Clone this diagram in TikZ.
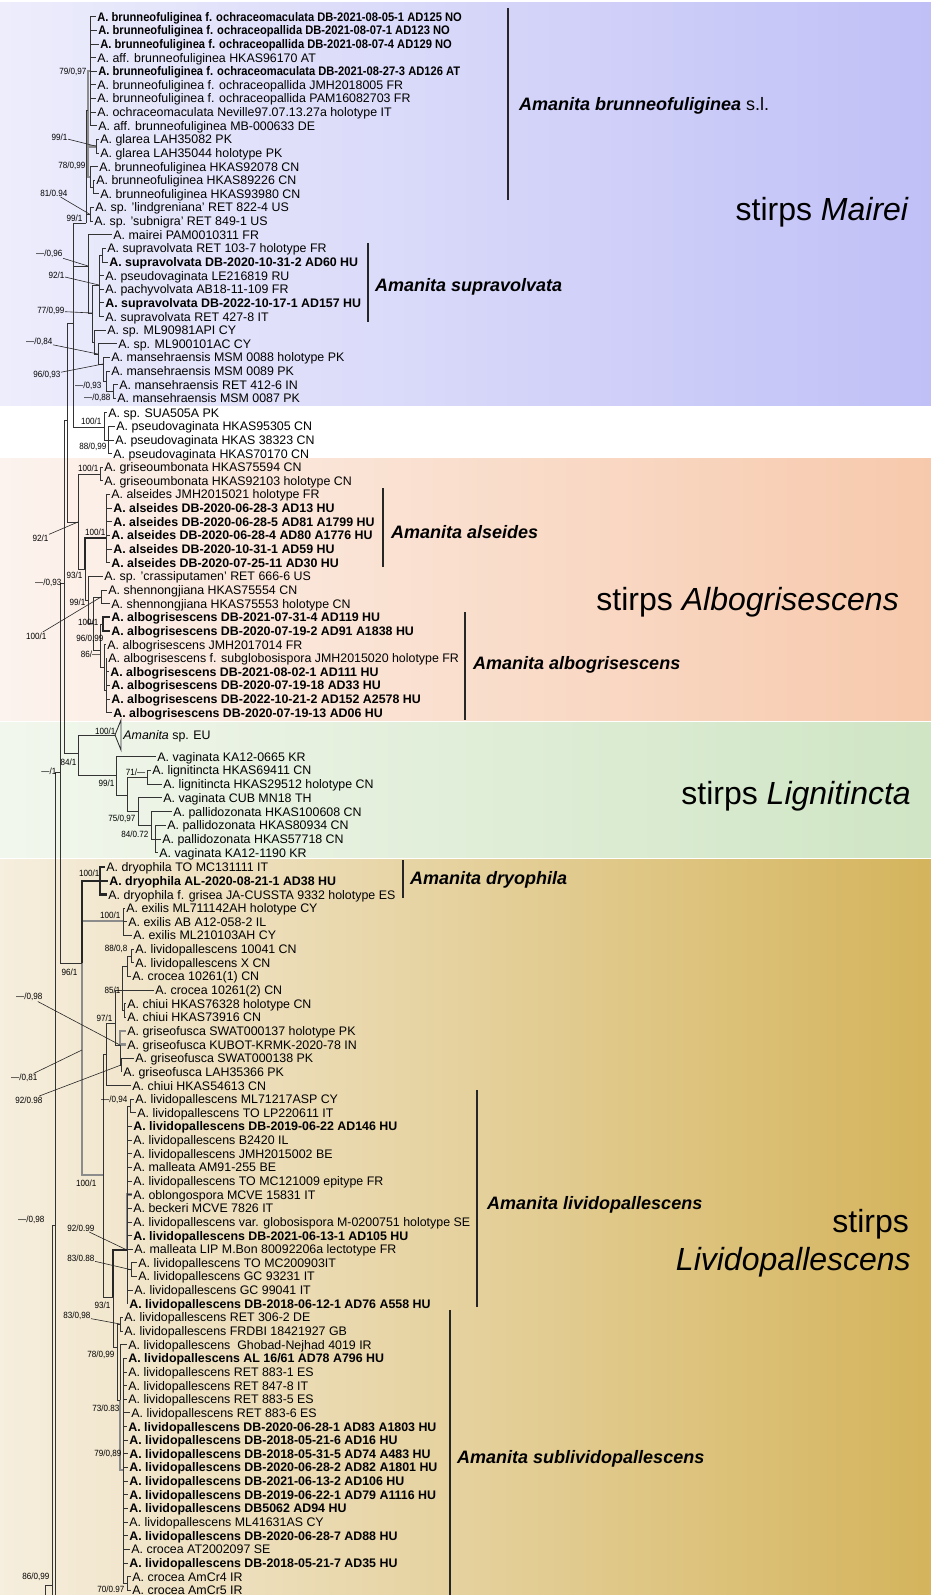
\documentclass[tikz,border=0pt]{standalone}
\usepackage{fontspec}
\setmainfont{Liberation Sans}
\newfontfamily\supfam[FakeStretch=0.9]{Liberation Sans}
\definecolor{mairL}{RGB}{237,237,252}
\definecolor{mairR}{RGB}{192,192,247}
\definecolor{alboL}{RGB}{252,243,238}
\definecolor{alboR}{RGB}{247,201,172}
\definecolor{ligL}{RGB}{242,247,237}
\definecolor{ligR}{RGB}{207,229,196}
\definecolor{livL}{RGB}{246,238,222}
\definecolor{livR}{RGB}{212,180,92}
\newcommand{\leaffont}{\fontsize{12.4}{13}\selectfont}
\newcommand{\narrowbold}{\bfseries\addfontfeature{FakeStretch=0.9}}
\newcommand{\supfont}{\supfam\fontsize{9}{10}\selectfont}
\newcommand{\cladefont}{\fontsize{18}{21}\selectfont}
\newcommand{\stirpsfont}{\fontsize{32}{38}\selectfont}

\begin{document}
\begin{tikzpicture}[
  x=1pt, y=-1pt,
  lf/.style={anchor=west,inner sep=0pt,inner xsep=1.2pt,font=\leaffont,text height=8.9pt,text depth=0pt},
  br/.style={draw=black!80,line width=0.9pt},
  thk/.style={draw=black!45,line width=2.6pt},
  tkb/.style={draw=black!85,line width=2.2pt},
  sup/.style={anchor=east,inner sep=0.5pt,font=\supfont},
  ldr/.style={draw=black!85,line width=0.6pt},
  bar/.style={draw=black!85,line width=1.2pt},
  cl/.style={anchor=west,inner sep=0pt,font=\cladefont\bfseries\itshape,text height=12.9pt,text depth=0pt},
  stp/.style={anchor=base east,inner sep=0pt,font=\stirpsfont}
]
\useasboundingbox (0,0) rectangle (931,1595);
\clip (0,0) rectangle (931,1595);

% stirps bands
\shade[left color=mairL,right color=mairR] (0,3) rectangle (931,405);
\shade[left color=alboL,right color=alboR] (0,458) rectangle (931,720);
\shade[left color=ligL,right color=ligR] (0,722) rectangle (931,857.5);
\shade[left color=livL,right color=livR] (0,859.5) rectangle (931,1595);

% leaves
\foreach \px/\t [count=\i] in {
  96/{\narrowbold A. brunneofuliginea f. ochraceomaculata DB-2021-08-05-1 AD125 NO},
  97/{\narrowbold A. brunneofuliginea f. ochraceopallida DB-2021-08-07-1 AD123 NO},
  99/{\narrowbold A. brunneofuliginea f. ochraceopallida DB-2021-08-07-4 AD129 NO},
  96/{A. aff. brunneofuliginea HKAS96170 AT},
  97/{\narrowbold A. brunneofuliginea f. ochraceomaculata DB-2021-08-27-3 AD126 AT},
  96/{A. brunneofuliginea f. ochraceopallida JMH2018005 FR},
  96/{A. brunneofuliginea f. ochraceopallida PAM16082703 FR},
  96/{A. ochraceomaculata Neville97.07.13.27a holotype IT},
  97/{A. aff. brunneofuliginea MB-000633 DE},
  99/{A. glarea LAH35082 PK},
  99/{A. glarea LAH35044 holotype PK},
  98/{A. brunneofuliginea HKAS92078 CN},
  95/{A. brunneofuliginea HKAS89226 CN},
  99/{A. brunneofuliginea HKAS93980 CN},
  94/{A. sp. 'lindgreniana' RET 822-4 US},
  93/{A. sp. 'subnigra' RET 849-1 US},
  112/{A. mairei PAM0010311 FR},
  106/{A. supravolvata RET 103-7 holotype FR},
  108/{\bfseries A. supravolvata DB-2020-10-31-2 AD60 HU},
  104/{A. pseudovaginata LE216819 RU},
  104/{A. pachyvolvata AB18-11-109 FR},
  104/{\bfseries A. supravolvata DB-2022-10-17-1 AD157 HU},
  104/{A. supravolvata RET 427-8 IT},
  106/{A. sp. ML90981API CY},
  117/{A. sp. ML900101AC CY},
  110/{A. mansehraensis MSM 0088 holotype PK},
  110/{A. mansehraensis MSM 0089 PK},
  118/{A. mansehraensis RET 412-6 IN},
  116/{A. mansehraensis MSM 0087 PK}}
  \node[lf] (L\i) at (\px,{16.7+13.63*(\i-1)}) {\t};

\foreach \px/\t [count=\i from 30] in {
  107/{A. sp. SUA505A PK},
  115/{A. pseudovaginata HKAS95305 CN},
  114/{A. pseudovaginata HKAS 38323 CN},
  112/{A. pseudovaginata HKAS70170 CN},
  103/{A. griseoumbonata HKAS75594 CN},
  103/{A. griseoumbonata HKAS92103 holotype CN},
  110/{A. alseides JMH2015021 holotype FR},
  112/{\bfseries A. alseides DB-2020-06-28-3 AD13 HU},
  112/{\bfseries A. alseides DB-2020-06-28-5 AD81 A1799 HU},
  110/{\bfseries A. alseides DB-2020-06-28-4 AD80 A1776 HU},
  112/{\bfseries A. alseides DB-2020-10-31-1 AD59 HU},
  110/{\bfseries A. alseides DB-2020-07-25-11 AD30 HU},
  103/{A. sp. 'crassiputamen' RET 666-6 US},
  107/{A. shennongjiana HKAS75554 CN},
  110/{A. shennongjiana HKAS75553 holotype CN},
  110/{\bfseries A. albogrisescens DB-2021-07-31-4 AD119 HU},
  110/{\bfseries A. albogrisescens DB-2020-07-19-2 AD91 A1838 HU},
  106/{A. albogrisescens JMH2017014 FR},
  107/{A. albogrisescens f. subglobosispora JMH2015020 holotype FR},
  109/{\bfseries A. albogrisescens DB-2021-08-02-1 AD111 HU},
  110/{\bfseries A. albogrisescens DB-2020-07-19-18 AD33 HU},
  110/{\bfseries A. albogrisescens DB-2022-10-21-2 AD152 A2578 HU},
  112/{\bfseries A. albogrisescens DB-2020-07-19-13 AD06 HU}}
  \node[lf] (L\i) at (\px,{412.7+13.64*(\i-30)}) {\t};

\node[lf] (L53) at (122,735) {\textit{Amanita} sp. EU};

\foreach \px/\t [count=\i from 54] in {
  156/{A. vaginata KA12-0665 KR},
  151/{A. lignitincta HKAS69411 CN},
  162/{A. lignitincta HKAS29512 holotype CN},
  162/{A. vaginata CUB MN18 TH},
  172/{A. pallidozonata HKAS100608 CN},
  166/{A. pallidozonata HKAS80934 CN},
  161/{A. pallidozonata HKAS57718 CN},
  158/{A. vaginata KA12-1190 KR}}
  \node[lf] (L\i) at (\px,{756.7+13.71*(\i-54)}) {\t};

\foreach \px/\t [count=\i from 62] in {
  105/{A. dryophila TO MC131111 IT},
  108/{\bfseries A. dryophila AL-2020-08-21-1 AD38 HU},
  107/{A. dryophila f. grisea JA-CUSSTA 9332 holotype ES},
  125/{A. exilis ML711142AH holotype CY},
  127/{A. exilis AB A12-058-2 IL},
  132/{A. exilis ML210103AH CY},
  134/{A. lividopallescens 10041 CN},
  134/{A. lividopallescens X CN},
  131/{A. crocea 10261(1) CN},
  154/{A. crocea 10261(2) CN},
  126/{A. chiui HKAS76328 holotype CN},
  126/{A. chiui HKAS73916 CN},
  126/{A. griseofusca SWAT000137 holotype PK},
  126/{A. griseofusca KUBOT-KRMK-2020-78 IN},
  134/{A. griseofusca SWAT000138 PK},
  122/{A. griseofusca LAH35366 PK},
  131/{A. chiui HKAS54613 CN},
  134/{A. lividopallescens ML71217ASP CY},
  136/{A. lividopallescens TO LP220611 IT},
  132/{\bfseries A. lividopallescens DB-2019-06-22 AD146 HU},
  132/{A. lividopallescens B2420 IL},
  132/{A. lividopallescens JMH2015002 BE},
  132/{A. malleata AM91-255 BE},
  132/{A. lividopallescens TO MC121009 epitype FR},
  132/{A. oblongospora MCVE 15831 IT},
  132/{A. beckeri MCVE 7826 IT},
  132/{A. lividopallescens var. globosispora M-0200751 holotype SE},
  132/{\bfseries A. lividopallescens DB-2021-06-13-1 AD105 HU},
  133/{A. malleata LIP M.Bon 80092206a lectotype FR},
  137/{A. lividopallescens TO MC200903IT},
  137/{A. lividopallescens GC 93231 IT},
  133/{A. lividopallescens GC 99041 IT},
  128/{\bfseries A. lividopallescens DB-2018-06-12-1 AD76 A558 HU},
  123/{A. lividopallescens RET 306-2 DE},
  123/{A. lividopallescens FRDBI 18421927 GB},
  127/{A. lividopallescens\ \ Ghobad-Nejhad 4019 IR},
  127/{\bfseries A. lividopallescens AL 16/61 AD78 A796 HU},
  127/{A. lividopallescens RET 883-1 ES},
  127/{A. lividopallescens RET 847-8 IT},
  127/{A. lividopallescens RET 883-5 ES},
  130/{A. lividopallescens RET 883-6 ES},
  127/{\bfseries A. lividopallescens DB-2020-06-28-1 AD83 A1803 HU},
  128/{\bfseries A. lividopallescens DB-2018-05-21-6 AD16 HU},
  128/{\bfseries A. lividopallescens DB-2018-05-31-5 AD74 A483 HU},
  128/{\bfseries A. lividopallescens DB-2020-06-28-2 AD82 A1801 HU},
  128/{\bfseries A. lividopallescens DB-2021-06-13-2 AD106 HU},
  128/{\bfseries A. lividopallescens DB-2019-06-22-1 AD79 A1116 HU},
  128/{\bfseries A. lividopallescens DB5062 AD94 HU},
  128/{A. lividopallescens ML41631AS CY},
  128/{\bfseries A. lividopallescens DB-2020-06-28-7 AD88 HU},
  130/{A. crocea AT2002097 SE},
  128/{\bfseries A. lividopallescens DB-2018-05-21-7 AD35 HU},
  131/{A. crocea AmCr4 IR},
  131/{A. crocea AmCr5 IR}}
  \node[lf] (L\i) at (\px,{867.3+13.64*(\i-62)}) {\t};

% internal nodes of the tree
\foreach \nm/\px/\py in {Ctop/90/71.2, Cbig/88/110, G1/96/146.2, G2/90/177, G2b/93/187.1,
  G3/90/214.4, Csl/86/223, Sv1/102/255.2, Sv/99/285, Mm/88/266, Ms/92/313, Mx/94/342,
  Mn/98/354, Mn2/103/364, Mn3/106/381, Mn4/113/391.5, P1/104/427, P2/108/440, M1/73/323,
  Gu/100/474, Al/106/538, Sh/101/597, Ab1/103/624, Ab2/104/667, Ab3/106/690, Ab/100/650,
  Gd/93/623, Gc/88/600, Gb/85/569, Ga/78/522, Q1/67/420, Q2/64/583,
  Aeu/115/735, Aeut/121/720, Aeub/121/750, Lc/147/777.2, Lg6/155/839, Lg5/151/825,
  Lg4/138/811, Lg3/127/795, Lg2/116/775, Lig/78/753,
  Dr/100/880.9, Ex/123/921, Cl/131/956, Cc/127/966, Ch/124/1010.5, Cy/122/990,
  Gf2/121/1065, Gf/120/1045, Cx/115/1023, Cg/106/1054, Lp1/130/1106, Lp2/131/1269.7,
  Lp/127/1250, Sb1/120/1324, Sb4/127/1583, Sb3/123/1470, Sb2/120/1400, Sb/117/1347,
  Ly/113/1297, Lx/103/1175, Lv/82/963, k81/82/1050, R2/60/772, R1/55/1225,
  Rb/75/1660, B1/52/1585, Bb/70/1670, B0/45/1680}
  \coordinate (\nm) at (\px,\py);

% heavy branches
\foreach \p/\c in {Cbig/Ctop, Cbig/G1, Cbig/G2, Lv/Ex, Lv/Lx, Sb2/Sb3, Gf/L74, Gf/L75, Lp/L86}
  \draw[thk] (\p) |- (\c);
\foreach \p/\c in {Gb/Al, Ab1/L45, Ab1/L46, Lv/Dr, Dr/L62, Dr/L63, Dr/L64, Ly/Lp}
  \draw[tkb] (\p) |- (\c);

% branches
\foreach \c in {1,...,9} \draw[br] (Ctop) |- (L\c);
\foreach \c in {36,...,41} \draw[br] (Al) |- (L\c);
\foreach \c in {48,...,52} \draw[br] (Ab3) |- (L\c);
\foreach \c in {81,...,90} \draw[br] (Lp) |- (L\c);
\foreach \c in {98,...,113} \draw[br] (Sb3) |- (L\c);
\foreach \p/\c in {G1/L10, G1/L11, G2/L12, G2/G2b, G2b/L13, G2b/L14, G3/L15, G3/L16,
  Csl/Cbig, Csl/G3, M1/Csl, M1/Mm, M1/P1, Mm/L17, Mm/Ms, Ms/Sv, Ms/Mx,
  Sv/Sv1, Sv/L20, Sv/L21, Sv/L22, Sv/L23, Sv1/L18, Sv1/L19, Mx/L24, Mx/Mn,
  Mn/L25, Mn/Mn2, Mn2/L26, Mn2/Mn3, Mn3/L27, Mn3/Mn4, Mn4/L28, Mn4/L29,
  P1/L30, P1/P2, P2/L31, P2/L32, P2/L33, Q1/M1, Q1/Ga, Q2/Q1, Q2/Lig,
  R2/Q2, R2/Lv, R1/R2, R1/Rb, B1/R1, B1/Bb, B0/B1,
  Ga/Gu, Ga/Gb, Gu/L34, Gu/L35, Gb/Gc, Gc/L42, Gc/Gd, Gd/Sh, Gd/Ab, Sh/L43, Sh/L44,
  Ab/Ab1, Ab/Ab2, Ab2/L47, Ab2/Ab3,
  Lig/Aeu, Lig/Lg2, Lg2/L54, Lg2/Lg3, Lg3/Lc, Lg3/Lg4, Lc/L55, Lc/L56,
  Lg4/L57, Lg4/Lg5, Lg5/L58, Lg5/Lg6, Lg6/L59, Lg6/L60, Lg6/L61,
  Ex/L65, Ex/L66, Ex/L67, Cl/L68, Cl/L69, Cc/Cl, Cc/L70, Cy/Cc, Cy/L71, Cy/Ch,
  Ch/L72, Ch/L73, Cx/Cy, Cx/Gf, Gf/Gf2, Gf2/L76, Gf2/L77, Cg/Cx, Cg/L78,
  Lx/Cg, Lx/Ly, Ly/Sb, Lp/Lp1, Lp/Lp2, Lp/L93, Lp/L94, Lp1/L79, Lp1/L80,
  Lp2/L91, Lp2/L92, Sb/Sb1, Sb/Sb2, Sb1/L95, Sb1/L96, Sb2/L97, Sb3/Sb4,
  Sb4/L114, Sb4/L115}
  \draw[br] (\p) |- (\c);

% collapsed clade
\draw[br] (Aeu) -- (Aeut) -- (Aeub) -- cycle;

% support values
\foreach \nm/\px/\py/\t in {s1/87/72/{79/0,97}, s2/68/137/{99/1}, s3/86/166/{78/0,99},
  s4/68/193/{81/0.94}, s5/83/218/{99/1}, s6/63/254/{—/0,96}, s7/65/275/{92/1},
  s8/65/311/{77/0,99}, s9/53/342/{—/0,84}, s10/61/375/{96/0,93}, s11/102/386/{—/0,93},
  s12/111/398/{—/0,88}, s13/102/421/{100/1}, s14/107/447/{88/0,99}, s15/99/468/{100/1},
  s16/106/532/{100/1}, s17/49/538/{92/1}, s18/83/575/{93/1}, s19/62/583/{—/0,93},
  s20/86/602/{99/1}, s21/99/622/{100/1}, s22/47/636/{100/1}, s23/104/639/{96/0,99},
  s24/101/654/{86/—}, s25/116/731/{100/1}, s26/77/762/{84/1}, s27/57/771/{—/1},
  s28/146/772/{71/—}, s29/115/783/{99/1}, s30/136/819/{75/0,97}, s31/149/834/{84/0.72},
  s32/100/873/{100/1}, s33/121/915/{100/1}, s34/128/949/{88/0,8}, s35/78/972/{96/1},
  s36/121/990/{85/1}, s37/43/997/{—/0,98}, s38/113/1018/{97/1}, s39/38/1078/{—/0,81},
  s40/128/1100/{—/0,94}, s41/43/1100/{92/0.98}, s42/97/1183/{100/1}, s43/45/1220/{—/0,98},
  s44/95/1228/{92/0.99}, s45/95/1258/{83/0.88}, s46/111/1305/{93/1}, s47/91/1316/{83/0,98},
  s48/115/1355/{78/0,99}, s49/120/1408/{73/0.83}, s50/122/1454/{79/0,89},
  s51/50/1577/{86/0,99}, s52/125/1589/{70/0.97}}
  \node[sup] (\nm) at (\px,\py) {\t};
\foreach \a/\b in {s2/G1, s4/G3, s6/Mm, s7/Sv, s8/Ms, s9/Mn, s10/Mn2, s17/Ga, s22/Sh,
  s37/Gf, s39/k81, s41/Gf2, s44/Lp, s45/Lp2, s47/Sb1}
  \draw[ldr] (\a) -- (\b);

% clade bars and names
\foreach \nm/\px/\ya/\yb in {b1/508/8/200, b2/368/243/322, b3/383/488/567, b4/465/612/720,
  b5/403/860/898, b6/477/1090/1307, b7/450/1310/1600}
{
  \coordinate (\nm t) at (\px,\ya);
  \coordinate (\nm b) at (\px,\yb);
  \draw[bar] (\nm t) -- (\nm b);
}
\node[cl] (cBr) at (519,104) {Amanita brunneofuliginea \textnormal{s.l.}};
\node[cl] (cSu) at (375,285) {Amanita supravolvata};
\node[cl] (cAl) at (391,532) {Amanita alseides};
\node[cl] (cAb) at (473,663) {Amanita albogrisescens};
\node[cl] (cDr) at (410,878) {Amanita dryophila};
\node[cl] (cLi) at (487,1203) {Amanita lividopallescens};
\node[cl] (cSb) at (457,1457) {Amanita sublividopallescens};

% stirps names
\node[stp] (stM) at (909,220) {stirps \textit{Mairei}};
\node[stp] (stA) at (899,610) {stirps \textit{Albogrisescens}};
\node[stp] (stL) at (911,804) {stirps \textit{Lignitincta}};
\node[stp] (stV1) at (909,1232) {stirps};
\node[stp] (stV2) at (911,1270) {\textit{Lividopallescens}};
\end{tikzpicture}
\end{document}
